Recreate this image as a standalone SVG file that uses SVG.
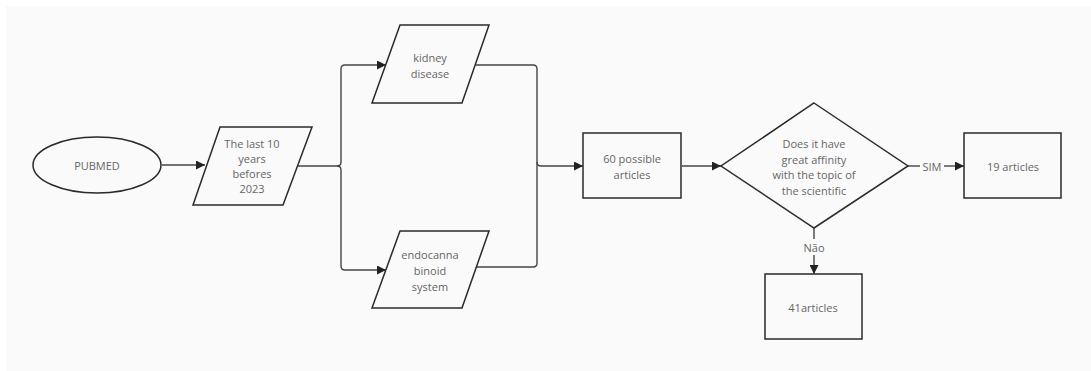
<svg xmlns="http://www.w3.org/2000/svg" width="1091" height="371" viewBox="0 0 1091 371">
<defs>
<marker id="ah" viewBox="0 0 10 10" refX="10" refY="5" markerWidth="9" markerHeight="9" markerUnits="userSpaceOnUse" orient="auto">
<path d="M0,0 L10,5 L0,10 Z" fill="#222"/>
</marker>
<style>
.sh{fill:#fafafa;stroke:#2a2a2a;stroke-width:1.5}
.ln{fill:none;stroke:#444;stroke-width:1.4}
.t{font-family:"Open Sans","Noto Sans",sans-serif;font-size:11px;fill:#666666;text-anchor:middle;dominant-baseline:central}
</style>
</defs>
<rect x="0" y="0" width="1091" height="371" fill="#ffffff"/>
<rect x="6" y="6" width="1085" height="365" fill="#fafafa"/>
<g id="connectors">
<line class="ln" x1="162" y1="165" x2="205" y2="165" marker-end="url(#ah)"/>
<path class="ln" d="M297,166 H337 Q341,166 341,162 V69 Q341,65 345,65 H386" marker-end="url(#ah)"/>
<path class="ln" d="M337,166 Q341,166 341,170 V266 Q341,270 345,270 H386" marker-end="url(#ah)"/>
<path class="ln" d="M476,65 H533 Q537,65 537,69 V263 Q537,267 533,267 H476"/>
<path class="ln" d="M537,162 Q537,166 541,166 H583" marker-end="url(#ah)"/>
<line class="ln" x1="682" y1="166" x2="721" y2="166" marker-end="url(#ah)"/>
<line class="ln" x1="908" y1="166" x2="920" y2="166"/>
<text class="t" x="932" y="166">SIM</text>
<line class="ln" x1="944" y1="166" x2="964" y2="166" marker-end="url(#ah)"/>
<line class="ln" x1="814" y1="228" x2="814" y2="239"/>
<text class="t" x="814" y="247">Não</text>
<line class="ln" x1="814" y1="255" x2="814" y2="274" marker-end="url(#ah)"/>
</g>
<g id="pubmed">
<ellipse class="sh" cx="97" cy="165" rx="64" ry="28"/>
<text class="t" x="97" y="165">PUBMED</text>
</g>
<g id="last10">
<polygon class="sh" points="220,127 312,127 283,205 193,205"/>
<text class="t" x="252" y="143">The last 10</text>
<text class="t" x="252" y="158">years</text>
<text class="t" x="252" y="173">befores</text>
<text class="t" x="252" y="188">2023</text>
</g>
<g id="kidney">
<polygon class="sh" points="400,25 489,25 462,103 372,103"/>
<text class="t" x="430" y="57">kidney</text>
<text class="t" x="430" y="73">disease</text>
</g>
<g id="endo">
<polygon class="sh" points="400,231 489,231 462,308 372,308"/>
<text class="t" x="430" y="254">endocanna</text>
<text class="t" x="430" y="270">binoid</text>
<text class="t" x="430" y="286">system</text>
</g>
<g id="possible">
<rect class="sh" x="583" y="133" width="98" height="65"/>
<text class="t" x="632" y="158">60 possible</text>
<text class="t" x="632" y="174">articles</text>
</g>
<g id="decision">
<polygon class="sh" points="814,103 908,166 814,228 721,166"/>
<text class="t" x="814" y="143">Does it have</text>
<text class="t" x="814" y="159">great affinity</text>
<text class="t" x="814" y="174">with the topic of</text>
<text class="t" x="814" y="190">the scientific</text>
</g>
<g id="yes">
<rect class="sh" x="964" y="133" width="97" height="65"/>
<text class="t" x="1013" y="166">19 articles</text>
</g>
<g id="no">
<rect class="sh" x="765" y="274" width="97" height="65"/>
<text class="t" x="813" y="307">41articles</text>
</g>
</svg>
